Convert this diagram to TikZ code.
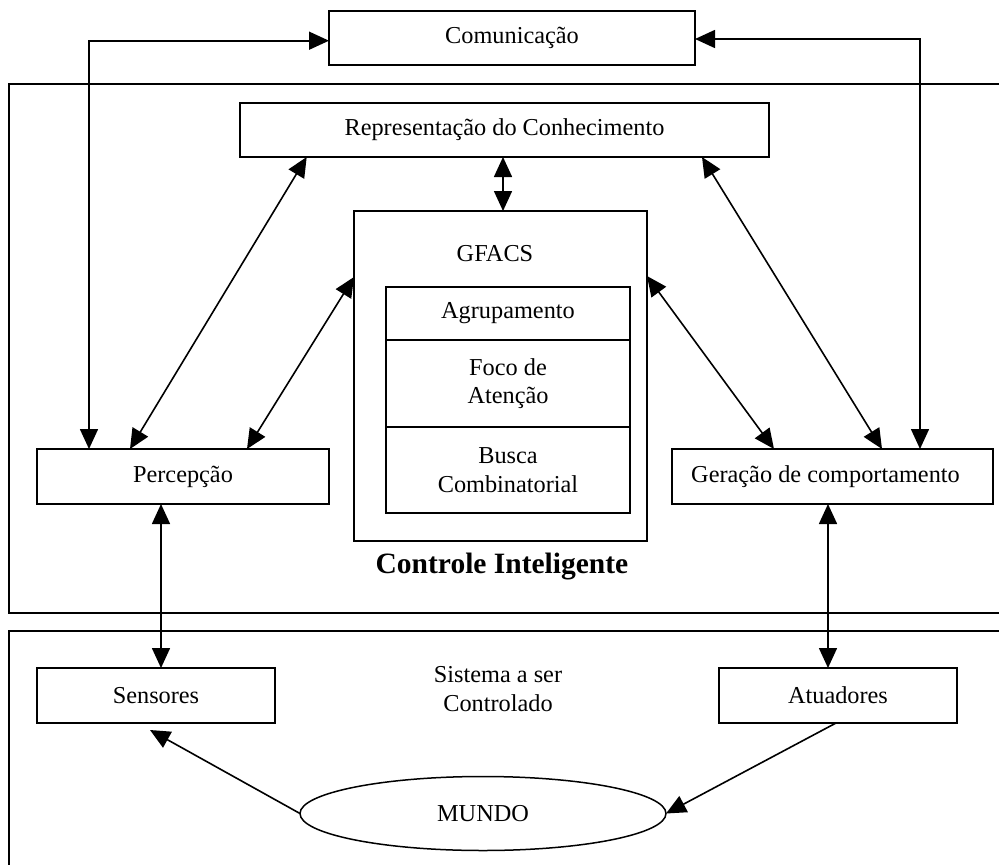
\documentclass[tikz,border=0pt]{standalone}
\usepackage{fontspec}
\setmainfont{Liberation Serif}
\usetikzlibrary{arrows.meta,calc,shapes.geometric}

\begin{document}
\begin{tikzpicture}[x=1pt,y=-1pt,
  every node/.style={font=\fontsize{24.3}{28.5}\selectfont},
  box/.style={draw, line width=1.8pt, inner sep=0pt, outer sep=0pt, align=center},
  frame/.style={line width=1.8pt},
  link/.style={line width=1.6pt, {Triangle[length=20pt,width=18pt]}-{Triangle[length=20pt,width=18pt]}},
  flow/.style={line width=1.6pt, -{Triangle[length=20pt,width=18pt]}}]

\useasboundingbox (0,0) rectangle (999,865);

% open frames of the two subsystems
\draw[frame] (999,84) -- (8.7,84) -- (8.7,612.7) -- (999,612.7);
\draw[frame] (999,631) -- (8.7,631) -- (8.7,865);

% blocks
\node[box, minimum width=366pt, minimum height=54pt] (com) at (512,38) {Comunicação};
\node[box, minimum width=529pt, minimum height=54pt] (rep) at (504.5,130) {Representação do Conhecimento};
\node[box, minimum width=293pt, minimum height=330pt] (gfacs) at (500.5,376) {};
\node (gfacslabel) at (495,254) {GFACS};
\node[box, minimum width=244pt, minimum height=53pt] (agr) at (508,313.5) {Agrupamento};
\node[box, minimum width=244pt, minimum height=87pt] (foco) at (508,383.5) {Foco de\\Atenção};
\node[box, minimum width=244pt, minimum height=86pt] (busca) at (508,470) {Busca\\Combinatorial};
\node[box, minimum width=292pt, minimum height=55pt] (perc) at (183,476.5) {Percepção};
\node[box, minimum width=321pt, minimum height=55pt] (ger) at (832.5,476.5) {\hspace*{-14pt}Geração de comportamento};
\node[box, minimum width=238pt, minimum height=55pt] (sens) at (156,695.5) {Sensores};
\node[box, minimum width=238pt, minimum height=55pt] (atu) at (838,695.5) {Atuadores};
\node[draw, ellipse, line width=1.5pt, inner sep=0pt, outer sep=0pt,
      minimum width=366pt, minimum height=74pt] (mundo) at (483,813.5) {MUNDO};

% titles
\node[font=\bfseries\fontsize{29.5}{34}\selectfont] (ctl) at (502,567) {Controle Inteligente};
\node[align=center] (sis) at (498,689) {Sistema a ser\\Controlado};

% connectors
\coordinate (cl) at (89,40.7);
\coordinate (cr) at (920,39);
\draw[link] (cl -| com.west) -- (cl) -- (cl |- perc.north);
\draw[link] (cr -| com.east) -- (cr) -- (cr |- ger.north);
\draw[link] ($(perc.north west)+(93,0)$) -- ($(rep.south west)+(66.7,0)$);
\draw[link] ($(perc.north west)+(210,0)$) -- ($(gfacs.north west)+(0,66)$);
\draw[link] ($(ger.north west)+(102,0)$) -- ($(gfacs.north east)+(0,65)$);
\draw[link] ($(ger.north west)+(210,0)$) -- ($(rep.south east)+(-67,0)$);
\draw[link] ($(rep.south)+(-1.5,0)$) -- ($(gfacs.north)+(2.5,0)$);
\draw[link] ($(perc.south west)+(124,0)$) -- ($(sens.north west)+(124,0)$);
\draw[link] ($(ger.south west)+(156,0)$) -- ($(atu.north west)+(109,0)$);
\draw[flow] (mundo.west) -- ($(sens.south)+(-6,7)$);
\draw[flow] ($(atu.south)+(-2,0)$) -- (mundo.east);
\end{tikzpicture}
\end{document}
